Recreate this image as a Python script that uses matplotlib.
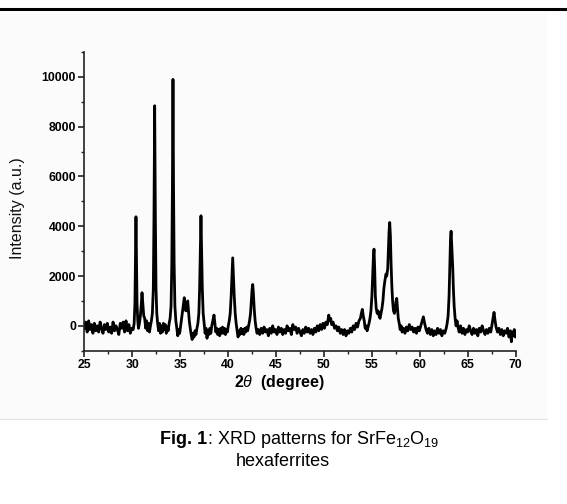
import matplotlib
matplotlib.use("Agg")
import matplotlib.pyplot as plt
from matplotlib.patches import Rectangle
from matplotlib.lines import Line2D
from matplotlib.ticker import MultipleLocator

plt.rcParams['font.family'] = ['Liberation Sans', 'DejaVu Sans']
plt.rcParams['mathtext.fontset'] = 'custom'
plt.rcParams['mathtext.rm'] = 'Liberation Sans'
plt.rcParams['mathtext.it'] = 'Liberation Sans:italic'
plt.rcParams['mathtext.bf'] = 'Liberation Sans:bold'

# ---- data (2theta in degrees, intensity in a.u.) ----
two_theta = [
    25.0, 25.15, 25.3, 25.45, 25.6, 25.75, 25.9, 26.05, 26.2, 26.35, 26.5, 26.65, 26.8, 26.95,
    27.1, 27.25, 27.4, 27.55, 27.7, 27.85, 28.0, 28.15, 28.3, 28.45, 28.6, 28.75, 28.9, 29.05,
    29.2, 29.35, 29.5, 29.65, 29.8, 29.95,
    30.1, 30.2, 30.28, 30.33, 30.39, 30.45, 30.5, 30.58, 30.65, 30.75, 30.85, 30.95, 31.02, 31.1,
    31.2, 31.3, 31.4, 31.5, 31.6, 31.7, 31.8, 31.9, 32.0, 32.1, 32.2, 32.27, 32.34, 32.41, 32.48,
    32.56, 32.65, 32.75, 32.85, 32.95, 33.05, 33.15, 33.25, 33.35, 33.45, 33.55, 33.65, 33.75,
    33.85, 33.95, 34.05, 34.13, 34.19, 34.25, 34.31, 34.37, 34.45, 34.55, 34.65, 34.75, 34.85,
    34.95, 35.05, 35.15, 35.25, 35.35, 35.43, 35.5, 35.6, 35.7, 35.79, 35.87, 35.95, 36.05, 36.15,
    36.25, 36.35, 36.45, 36.55, 36.65, 36.75, 36.85, 36.95, 37.03, 37.1, 37.17, 37.24, 37.31, 37.4,
    37.5, 37.6, 37.7, 37.8, 37.9, 38.0, 38.1, 38.2, 38.3, 38.4, 38.53, 38.62, 38.72, 38.82, 38.92,
    39.02, 39.12, 39.22, 39.32, 39.42, 39.52, 39.62, 39.72, 39.82, 39.92, 40.02, 40.12, 40.22,
    40.32, 40.4, 40.48, 40.56, 40.64, 40.74, 40.84, 40.94, 41.04, 41.14, 41.24, 41.34, 41.44,
    41.54, 41.64, 41.74, 41.84, 41.94, 42.04, 42.14, 42.24, 42.34, 42.44, 42.5, 42.57, 42.64,
    42.72, 42.82, 42.92, 43.02,
    43.15, 43.3, 43.45, 43.6, 43.75, 43.9, 44.05, 44.2, 44.35, 44.5, 44.65, 44.8, 44.95, 45.1,
    45.25, 45.4, 45.55, 45.7, 45.85, 46.0, 46.15, 46.3, 46.45, 46.6, 46.75, 46.9, 47.05, 47.2,
    47.35, 47.5, 47.65, 47.8, 47.95, 48.1, 48.25, 48.4, 48.55, 48.7, 48.85, 49.0, 49.15, 49.3,
    49.45, 49.6, 49.75, 49.9, 50.05, 50.2, 50.35, 50.5, 50.6, 50.7, 50.8, 50.95, 51.1, 51.25,
    51.4, 51.55, 51.7, 51.85, 52.0, 52.15, 52.3, 52.45, 52.6, 52.75, 52.9, 53.05, 53.2, 53.35,
    53.5, 53.65, 53.8, 53.9, 54.0, 54.1, 54.2, 54.3, 54.4, 54.5, 54.6, 54.7, 54.8, 54.9, 55.0,
    55.08, 55.15, 55.22, 55.29, 55.36, 55.45, 55.55, 55.65, 55.75, 55.85, 55.95, 56.05, 56.15,
    56.25, 56.35, 56.47, 56.55, 56.65, 56.72, 56.79, 56.86, 56.93, 57.0, 57.08, 57.16, 57.25,
    57.35, 57.45, 57.52, 57.59, 57.67, 57.75, 57.85, 57.95, 58.05, 58.15, 58.3, 58.45, 58.6,
    58.75, 58.9, 59.05, 59.2, 59.35, 59.5, 59.65, 59.8, 59.95, 60.1, 60.25, 60.37, 60.5, 60.65,
    60.8, 60.95, 61.1, 61.25, 61.4, 61.55, 61.7, 61.85, 62.0, 62.15, 62.3, 62.45, 62.6, 62.75,
    62.85, 62.95, 63.05, 63.13, 63.2, 63.26, 63.33, 63.43, 63.5, 63.58, 63.68, 63.78, 63.88,
    63.98, 64.1, 64.25, 64.4, 64.55, 64.7, 64.85, 65.0, 65.15, 65.3, 65.45, 65.6, 65.75, 65.9,
    66.05, 66.2, 66.35, 66.5, 66.65, 66.8, 66.95, 67.1, 67.25, 67.4, 67.55, 67.65, 67.74, 67.85,
    67.95, 68.1, 68.25, 68.4, 68.55, 68.7, 68.85, 69.0, 69.15, 69.3, 69.45, 69.55, 69.65, 69.75,
    69.85, 69.95, 70.0,
]
intensity = [
    -100, 150, -250, 200, -150, 50, -300, 100, -200, 0, -250, 150, -100, -300,
    50, -150, 100, -250, -50, -300, 150, -200, 0, -150, -350, 100, -100, 150,
    -250, 200, -200, 50, -300, -100,
    -150, 100, 900, 2500, 4380, 2500, 900, 200, -100, 100, 400, 900, 1330, 900,
    400, 300, -100, 200, -200, 100, -250, 0, 200, 500, 1500, 4500, 8840, 4500, 1500,
    500, 100, -200, 100, -300, 0, -250, 100, -150, 50, -300, -50, -200,
    100, 300, 800, 2500, 5500, 9900, 5500, 2500, 800, 200, -100, -400, -150,
    -300, 0, 300, 600, 900, 1130, 700, 600, 800, 1000, 600, 200, -100, -350,
    -550, -300, -450, -200, -350, -100, 100, 500, 1500, 3000, 4420, 3000, 1500, 500,
    100, -300, -100, -500, -200, -350, -100, -300, 0, 200, 430, 100, -250, -100, -350,
    -150, -400, -100, -300, -50, -300, -100, -350, -150, -250, 0, 200, 500,
    1200, 2000, 2730, 2000, 1200, 500, 100, -200, -450, -200, -350, -100, -300,
    -150, -350, -100, -250, -50, -200, 0, 200, 500, 1100, 1450, 1660, 1300,
    700, 200, -100, -300,
    -150, -350, -100, -300, -50, -250, -150, -400, -100, -300, 0, -250, -150, -350,
    -50, -250, -100, -350, -150, -300, 0, -200, -100, -350, 50, -150, -50, -300,
    -100, -250, -400, -150, -300, -50, -250, -100, -300, -150, -350, -100, -250, 0,
    -200, 50, -150, 100, -100, 150, 50, 430, 200, 300, 50, 150, -100, 0,
    -200, -50, -300, -150, -350, -150, -400, -200, -300, -100, -250, 0, -150, 100,
    -50, 200, 300, 500, 660, 400, 200, -100, 0, -200, -50, 100, 300, 600, 1200,
    2000, 2700, 3080, 2300, 1200, 700, 500, 600, 400, 300, 500, 700, 1000,
    1500, 1800, 2080, 2000, 2300, 3000, 3800, 4150, 3600, 2500, 1600, 1000, 600,
    500, 700, 1000, 1100, 700, 300, 100, -150, 0, -250, -100, -300, -50,
    -200, 50, -150, -50, -250, -100, -300, -50, -200, 0, 200, 360, 100, -150,
    -300, -100, -350, -150, -400, -200, -350, -100, -300, -150, -400, -200, -300, -100,
    100, 400, 1200, 2500, 3500, 3800, 3200, 2370, 1500, 800, 300, 0, 200,
    -50, -250, 0, -300, -100, -350, -150, -250, 0, -200, -350, -100, -300, -150,
    -400, -100, -250, 0, -200, -350, -150, -300, -100, -250, 100, 350, 540, 200,
    -50, -250, -100, -350, -150, -400, -200, -300, -100, -450, -200, -640, -250, -400,
    -150, -450, -300,
]

x_ticks = [25, 30, 35, 40, 45, 50, 55, 60, 65, 70]
y_ticks = [0, 2000, 4000, 6000, 8000, 10000]

W, H = 567, 504
fig = plt.figure(figsize=(W / 100, H / 100), dpi=100)
fig.patch.set_facecolor('white')

# page decorations: top rule, light figure panel, separator
fig.add_artist(Line2D([0, 1], [1 - 9 / H, 1 - 9 / H], transform=fig.transFigure,
                      color='black', lw=2.2))
fig.add_artist(Rectangle((0, 1 - 419 / H), 547 / W, (419 - 14) / H, transform=fig.transFigure,
                         facecolor='#fbfbfb', edgecolor='none', zorder=-10))
fig.add_artist(Line2D([0, 547 / W], [1 - 419 / H, 1 - 419 / H], transform=fig.transFigure,
                      color='#e2e2e2', lw=0.8))

ax = fig.add_axes([84.3 / W, 1 - 350.7 / H, (515.7 - 84.3) / W, (350.7 - 52) / H])
ax.set_facecolor('none')
ax.plot(two_theta, intensity, color='black', lw=2.0, solid_joinstyle='round')

ax.set_xlim(25, 70)
ax.set_ylim(-1000, 11000)
ax.set_xticks(x_ticks)
ax.set_yticks(y_ticks)
ax.xaxis.set_minor_locator(MultipleLocator(2.5))
ax.yaxis.set_minor_locator(MultipleLocator(1000))
for s in ['top', 'right']:
    ax.spines[s].set_visible(False)
for s in ['left', 'bottom']:
    ax.spines[s].set_linewidth(1.2)
    ax.spines[s].set_color('#222222')
ax.tick_params(which='major', direction='out', length=4, width=1.2, color='#222222',
               labelsize=8.8, pad=2)
ax.tick_params(which='minor', direction='out', length=2.5, width=1.0, color='#222222')
for lab in ax.get_xticklabels() + ax.get_yticklabels():
    lab.set_fontweight('bold')

fig.text(18 / W, 1 - 208 / H, 'Intensity (a.u.)', rotation=90, ha='center', va='center',
         fontsize=11.5, color='#111111')
fig.text(279 / W, 1 - 382 / H, r'2$\theta$  (degree)', ha='center', va='center',
         fontsize=11.5, fontweight='bold')

# caption: bold "Fig. 1" followed by regular text
renderer = fig.canvas.get_renderer()
t1 = fig.text(160 / W, 1 - 440 / H, 'Fig. 1', ha='left', va='center', fontsize=13,
              fontweight='bold')
bb = t1.get_window_extent(renderer)
fig.text(bb.x1 / W, 1 - 440 / H, r': XRD patterns for SrFe$_{12}$O$_{19}$', ha='left',
         va='center', fontsize=13)
fig.text(283 / W, 1 - 462 / H, 'hexaferrites', ha='center', va='center', fontsize=13)

fig.savefig('out.png', dpi=100, facecolor='white')
